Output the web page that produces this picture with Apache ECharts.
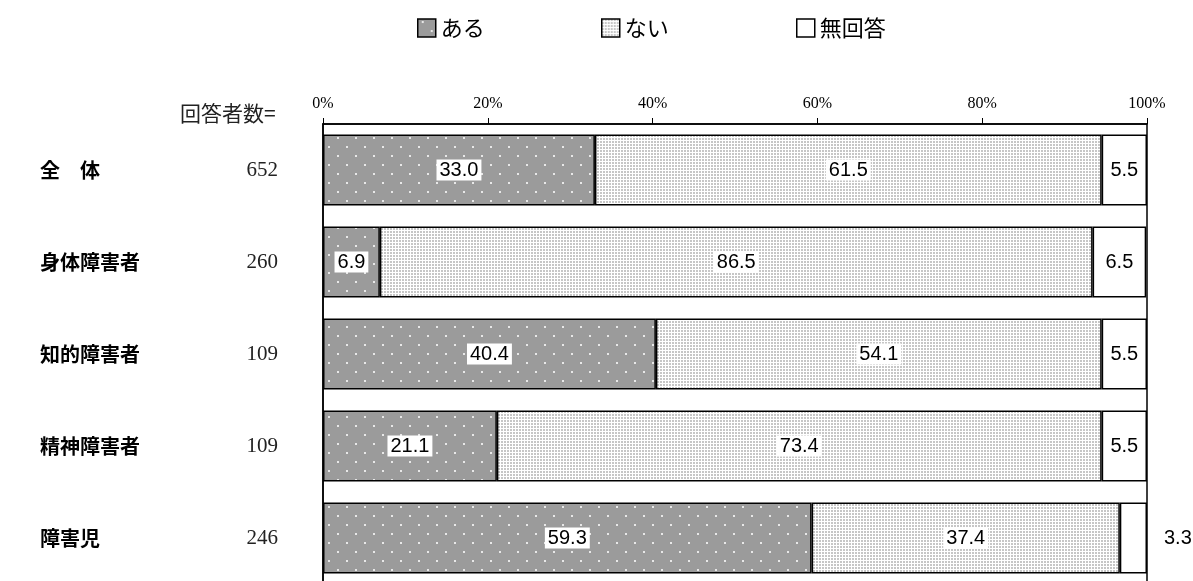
<!DOCTYPE html>
<html><head><meta charset="utf-8">
<script src="https://cdn.jsdelivr.net/npm/echarts@6/dist/echarts.min.js"></script>
<style>html,body{margin:0;padding:0;background:#fff}#c{width:1193px;height:581px}</style>
</head><body><div id="c"></div>
<script>
const categories = ['全　体','身体障害者','知的障害者','精神障害者','障害児'];
const counts = [652, 260, 109, 109, 246];
const seriesNames = ['ある','ない','無回答'];
const aru = [33.0, 6.9, 40.4, 21.1, 59.3];
const nai = [61.5, 86.5, 54.1, 73.4, 37.4];
const mukaitou = [5.5, 6.5, 5.5, 5.5, 3.3];
const xTicks = [0, 20, 40, 60, 80, 100];

function makePattern(kind){
  const c = document.createElement('canvas');
  if(kind==='dark'){
    c.width=18;c.height=18;const g=c.getContext('2d');
    g.fillStyle='#9b9b9b';g.fillRect(0,0,18,18);
    g.fillStyle='#e8e8e8';g.fillRect(4,2,2,2);g.fillRect(13,11,2,2);
  } else {
    c.width=3;c.height=3;const g=c.getContext('2d');
    g.fillStyle='#ffffff';g.fillRect(0,0,3,3);
    g.fillStyle='#c6c6c6';g.fillRect(0,0,2,2);
  }
  return {image:c, repeat:'repeat'};
}
const colors = [makePattern('dark'), makePattern('light'), '#ffffff'];

const chart = echarts.init(document.getElementById('c'));
const labelBase = {
  show:true, position:'inside', color:'#000', fontSize:20,
  fontFamily:'Liberation Sans, Arial, sans-serif',
  backgroundColor:'#fff', padding:[1,3,0,3],
  formatter: p => p.value.toFixed(1)
};
const dataArrs = [aru, nai, mukaitou];
const series = dataArrs.map((arr, si) => ({
  name: seriesNames[si], type:'bar', stack:'s', barWidth:71,
  itemStyle:{color:colors[si], borderColor:'#000', borderWidth:1.5},
  label: labelBase,
  emphasis:{disabled:true},
  data: arr.map((v, i) => {
    if(si===2 && v < 4) return {value:v, label:{position:'right', distance:14, backgroundColor:'transparent'}};
    return v;
  })
}));

const legendLefts = [412, 596, 791];
const legends = seriesNames.map((n, i) => ({
  top:12, left:legendLefts[i], itemWidth:18, itemHeight:18, icon:'rect',
  itemStyle:{borderColor:'#000', borderWidth:1.5},
  textStyle:{fontSize:22, color:'#000', fontFamily:'Noto Sans CJK JP'},
  data:[n]
}));

chart.setOption({
  animation:false,
  textStyle:{fontFamily:'Noto Sans CJK JP'},
  legend: legends,
  grid:{left:323, right:46, top:124, height:460, outerBoundsMode:'none', show:true, borderColor:'#000', borderWidth:1.5},
  xAxis:{
    type:'value', position:'top', min:0, max:100, interval:20,
    axisLine:{show:true, lineStyle:{color:'#000', width:1.5}},
    axisTick:{show:true, length:6, lineStyle:{color:'#000'}},
    splitLine:{show:false},
    axisLabel:{formatter: v => xTicks.includes(v) ? v + '%' : '', color:'#000', fontSize:16, margin:12, fontFamily:'Liberation Serif, DejaVu Serif, serif'}
  },
  yAxis:{
    type:'category', inverse:true, data:categories,
    axisLine:{show:true, lineStyle:{color:'#000', width:1.5}},
    axisTick:{show:false},
    axisLabel:{
      margin:283, align:'left',
      formatter:(v, i) => '{n|' + v + '}{c|' + counts[i] + '}',
      rich:{
        n:{width:198, align:'left', fontSize:20, fontWeight:'bold', color:'#000', fontFamily:'Noto Sans CJK JP'},
        c:{width:40, align:'right', fontSize:21, color:'#222', fontFamily:'Liberation Serif, DejaVu Serif, serif'}
      }
    }
  },
  graphic:[{type:'text', left:180, top:103, style:{text:'回答者数=', fontSize:21, fill:'#222', fontFamily:'Noto Sans CJK JP'}}],
  series: series
});
</script></body></html>
